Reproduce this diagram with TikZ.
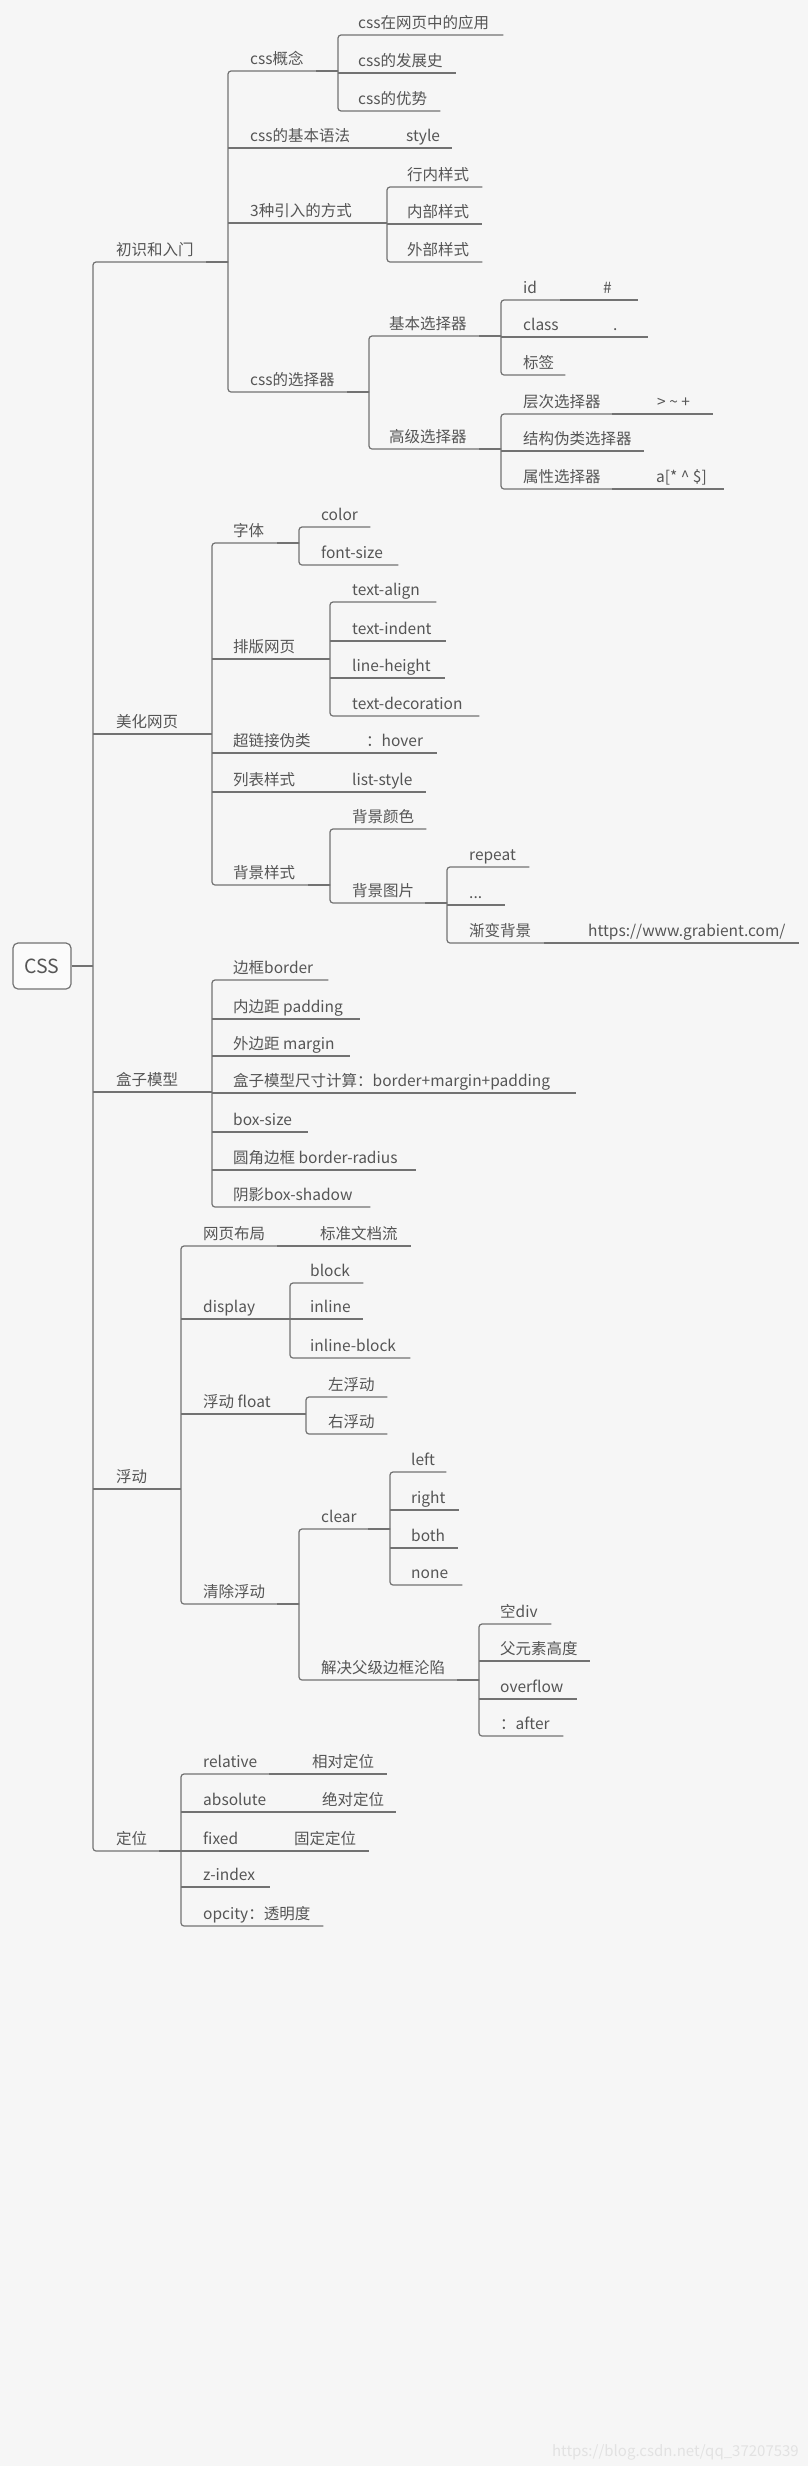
\documentclass[tikz,border=0pt]{standalone}
\usepackage{fontspec}
\setmainfont{Noto Sans CJK SC}
\definecolor{bg}{HTML}{F6F6F6}
\definecolor{lnc}{HTML}{727272}
\definecolor{txt}{HTML}{555555}
\definecolor{wm}{HTML}{E2E2E2}
\newcommand\mmtopic[6]{%
  \pgfmathsetmacro\mmw{#5-#2}%
  \pgfmathsetmacro\mmo{#4-#2}%
  \node[topic] (#1) at (#2,#3) {\makebox[\mmw pt][l]{\hspace*{\mmo pt}#6}};}
\newcommand\mmbr[2]{\draw[br] (#1.south east) -- (#1.south west) -- (#2.south west) -- (#2.south east);}
\newcommand\mmln[1]{\draw[ln] (#1.south west) -- (#1.south east);}
\newcommand\mmjn[1]{\draw[jn] ([xshift=-22pt]#1.south east) -- (#1.south east);}
\begin{document}
\begin{tikzpicture}[x=1pt,y=-1pt,
  topic/.style={anchor=south west, inner sep=0pt, text height=12pt, text depth=6.5pt, font=\fontsize{15.5}{18}\selectfont, text=txt},
  ln/.style={draw=lnc, line width=1.2pt},
  br/.style={ln, rounded corners=3pt},
  jn/.style={draw=lnc, line width=2pt},
  root/.style={draw=lnc, line width=1.2pt, rounded corners=5pt, fill=white!60!bg, minimum width=58pt, minimum height=46pt, inner sep=0pt, font=\fontsize{19.5}{22}\selectfont, text=txt}]
\useasboundingbox[fill=bg] (0,0) rectangle (808,2466);

% root
\node[root] (css) at (42,966) {CSS};

% level 1
\mmtopic{n1}{93}{262}{116}{228}{初识和入门}
\mmtopic{n2}{93}{734}{116}{212}{美化网页}
\mmtopic{n3}{93}{1092}{116}{212}{盒子模型}
\mmtopic{n4}{93}{1489}{116}{181}{浮动}
\mmtopic{n5}{93}{1851}{116}{181}{定位}

% 初识和入门
\mmtopic{a1}{228}{71}{250}{338}{css概念}
\mmtopic{a11}{338}{35}{358}{503}{css在网页中的应用}
\mmtopic{a12}{338}{73}{358}{456}{css的发展史}
\mmtopic{a13}{338}{111}{358}{440}{css的优势}
\mmtopic{a2}{228}{148}{250}{361}{css的基本语法}
\mmtopic{a2v}{361}{148}{406}{452}{style}
\mmtopic{a3}{228}{223}{250}{387}{3种引入的方式}
\mmtopic{a31}{387}{187}{407}{482}{行内样式}
\mmtopic{a32}{387}{224}{407}{482}{内部样式}
\mmtopic{a33}{387}{262}{407}{482}{外部样式}
\mmtopic{a4}{228}{392}{250}{369}{css的选择器}
\mmtopic{a41}{369}{336}{389}{501}{基本选择器}
\mmtopic{a411}{501}{300}{523}{560}{id}
\mmtopic{a411v}{560}{300}{603}{638}{\#}
\mmtopic{a412}{501}{337}{523}{570}{class}
\mmtopic{a412v}{570}{337}{613}{648}{.}
\mmtopic{a413}{501}{375}{523}{565}{标签}
\mmtopic{a42}{369}{449}{389}{501}{高级选择器}
\mmtopic{a421}{501}{414}{523}{612}{层次选择器}
\mmtopic{a421v}{612}{414}{657}{713}{> \textasciitilde{} +}
\mmtopic{a422}{501}{451}{523}{644}{结构伪类选择器}
\mmtopic{a423}{501}{489}{523}{612}{属性选择器}
\mmtopic{a423v}{612}{489}{656}{724}{a[* \textasciicircum{} \$]}

% 美化网页
\mmtopic{b1}{212}{543}{233}{299}{字体}
\mmtopic{b11}{299}{527}{321}{370}{color}
\mmtopic{b12}{299}{565}{321}{398}{font-size}
\mmtopic{b2}{212}{659}{233}{330}{排版网页}
\mmtopic{b21}{330}{602}{352}{436}{text-align}
\mmtopic{b22}{330}{641}{352}{446}{text-indent}
\mmtopic{b23}{330}{678}{352}{445}{line-height}
\mmtopic{b24}{330}{716}{352}{479}{text-decoration}
\mmtopic{b3}{212}{753}{233}{324}{超链接伪类}
\mmtopic{b3v}{324}{753}{366}{437}{：hover}
\mmtopic{b4}{212}{792}{233}{308}{列表样式}
\mmtopic{b4v}{308}{792}{352}{426}{list-style}
\mmtopic{b5}{212}{885}{233}{330}{背景样式}
\mmtopic{b51}{330}{829}{352}{426}{背景颜色}
\mmtopic{b52}{330}{903}{352}{447}{背景图片}
\mmtopic{b521}{447}{867}{469}{529}{repeat}
\mmtopic{b522}{447}{905}{469}{505}{...}
\mmtopic{b523}{447}{943}{469}{544}{渐变背景}
\mmtopic{b523v}{544}{943}{588}{799}{https://www.grabient.com/}

% 盒子模型
\mmtopic{c1}{212}{980}{233}{328}{边框border}
\mmtopic{c2}{212}{1019}{233}{360}{内边距 padding}
\mmtopic{c3}{212}{1056}{233}{350}{外边距 margin}
\mmtopic{c4}{212}{1093}{233}{576}{盒子模型尺寸计算：border+margin+padding}
\mmtopic{c5}{212}{1132}{233}{308}{box-size}
\mmtopic{c6}{212}{1170}{233}{416}{圆角边框 border-radius}
\mmtopic{c7}{212}{1207}{233}{370}{阴影box-shadow}

% 浮动
\mmtopic{d1}{181}{1246}{203}{277}{网页布局}
\mmtopic{d1v}{277}{1246}{320}{411}{标准文档流}
\mmtopic{d2}{181}{1319}{203}{290}{display}
\mmtopic{d21}{290}{1283}{310}{363}{block}
\mmtopic{d22}{290}{1319}{310}{363}{inline}
\mmtopic{d23}{290}{1358}{310}{410}{inline-block}
\mmtopic{d3}{181}{1414}{203}{306}{浮动 float}
\mmtopic{d31}{306}{1397}{328}{387}{左浮动}
\mmtopic{d32}{306}{1434}{328}{387}{右浮动}
\mmtopic{d4}{181}{1604}{203}{299}{清除浮动}
\mmtopic{d41}{299}{1529}{321}{390}{clear}
\mmtopic{d411}{390}{1472}{411}{446}{left}
\mmtopic{d412}{390}{1510}{411}{459}{right}
\mmtopic{d413}{390}{1548}{411}{458}{both}
\mmtopic{d414}{390}{1585}{411}{462}{none}
\mmtopic{d42}{299}{1680}{321}{479}{解决父级边框沦陷}
\mmtopic{d421}{479}{1624}{500}{551}{空div}
\mmtopic{d422}{479}{1661}{500}{590}{父元素高度}
\mmtopic{d423}{479}{1699}{500}{577}{overflow}
\mmtopic{d424}{479}{1736}{500}{563}{：after}

% 定位
\mmtopic{e1}{181}{1774}{203}{269}{relative}
\mmtopic{e1v}{269}{1774}{312}{387}{相对定位}
\mmtopic{e2}{181}{1812}{203}{278}{absolute}
\mmtopic{e2v}{278}{1812}{322}{396}{绝对定位}
\mmtopic{e3}{181}{1851}{203}{251}{fixed}
\mmtopic{e3v}{251}{1851}{294}{369}{固定定位}
\mmtopic{e4}{181}{1887}{203}{270}{z-index}
\mmtopic{e5}{181}{1926}{203}{323}{opcity：透明度}

% connectors
\draw[jn] (css.east) -- (css.east -| n1.south west);
\mmbr{n1}{n5} \mmln{n2} \mmln{n3} \mmln{n4}

\mmjn{n1} \mmbr{a1}{a4} \mmln{a2} \mmln{a3}
\mmjn{a1} \mmbr{a11}{a13} \mmln{a12}
\mmln{a2v}
\mmjn{a3} \mmbr{a31}{a33} \mmln{a32}
\mmjn{a4} \mmbr{a41}{a42}
\mmjn{a41} \mmbr{a411}{a413} \mmln{a412} \mmln{a411v} \mmln{a412v}
\mmjn{a42} \mmbr{a421}{a423} \mmln{a422} \mmln{a421v} \mmln{a423v}

\mmjn{n2} \mmbr{b1}{b5} \mmln{b2} \mmln{b3} \mmln{b4}
\mmjn{b1} \mmbr{b11}{b12}
\mmjn{b2} \mmbr{b21}{b24} \mmln{b22} \mmln{b23}
\mmln{b3v} \mmln{b4v}
\mmjn{b5} \mmbr{b51}{b52}
\mmjn{b52} \mmbr{b521}{b523} \mmln{b522} \mmln{b523v}

\mmjn{n3} \mmbr{c1}{c7} \mmln{c2} \mmln{c3} \mmln{c4} \mmln{c5} \mmln{c6}

\mmjn{n4} \mmbr{d1}{d4} \mmln{d2} \mmln{d3} \mmln{d1v}
\mmjn{d2} \mmbr{d21}{d23} \mmln{d22}
\mmjn{d3} \mmbr{d31}{d32}
\mmjn{d4} \mmbr{d41}{d42}
\mmjn{d41} \mmbr{d411}{d414} \mmln{d412} \mmln{d413}
\mmjn{d42} \mmbr{d421}{d424} \mmln{d422} \mmln{d423}

\mmjn{n5} \mmbr{e1}{e5} \mmln{e2} \mmln{e3} \mmln{e4}
\mmln{e1v} \mmln{e2v} \mmln{e3v}

% watermark
\node[anchor=south east, inner sep=0pt, text=wm, font=\fontsize{15}{18}\selectfont] (wmk) at (799,2460) {https://blog.csdn.net/qq\_37207539};
\end{tikzpicture}
\end{document}
